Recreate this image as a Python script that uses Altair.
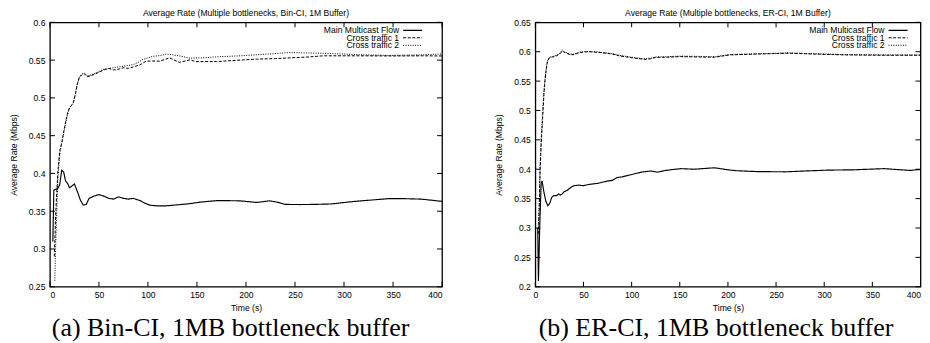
import altair as alt
import pandas as pd

# ---------------- data ----------------
series_names = ["Main Multicast Flow", "Cross traffic 1", "Cross traffic 2"]

# (a) Bin-CI
a_main_t = [3, 4, 8, 10, 12, 14, 16, 18, 20, 22, 25, 28, 31, 34, 37, 40, 45, 50, 55, 60, 65, 70, 75, 80, 85,
            92, 96, 102, 110, 118, 126, 135, 143, 153, 170, 180, 194, 211, 224, 232, 240, 255, 270, 287, 300,
            311, 330, 345, 362, 379, 395, 400]
a_main_v = [0.31, 0.378, 0.38, 0.385, 0.404, 0.402, 0.39, 0.387, 0.381, 0.383, 0.386, 0.376, 0.365, 0.358,
            0.359, 0.367, 0.37, 0.372, 0.37, 0.367, 0.366, 0.369, 0.367, 0.366, 0.367, 0.364, 0.361, 0.358,
            0.357, 0.357, 0.358, 0.359, 0.360, 0.362, 0.364, 0.364, 0.3637, 0.3616, 0.3637, 0.362, 0.359,
            0.3588, 0.359, 0.3596, 0.3615, 0.363, 0.365, 0.3666, 0.3666, 0.366, 0.3637, 0.363]

a_c1_t = [4.5, 6, 8, 10, 12, 14, 16, 18, 20, 22, 24, 26, 28, 30, 33, 35, 38, 41, 45, 50, 55, 60, 65, 70, 75,
          80, 85, 92, 98, 105, 112, 122, 132, 143, 149, 170, 194, 211, 230, 245, 262, 279, 313, 350, 380, 400]
a_c1_v = [0.29, 0.35, 0.40, 0.43, 0.44, 0.455, 0.468, 0.48, 0.487, 0.49, 0.494, 0.505, 0.518, 0.527, 0.531,
          0.532, 0.528, 0.529, 0.531, 0.534, 0.537, 0.539, 0.537, 0.538, 0.54, 0.539, 0.541, 0.5438, 0.5486,
          0.5488, 0.5486, 0.553, 0.547, 0.5504, 0.548, 0.548, 0.550, 0.5513, 0.552, 0.553, 0.554, 0.5557,
          0.5557, 0.5555, 0.5557, 0.5555]

a_c2_t = [5, 6, 8, 10, 12, 14, 16, 18, 20, 22, 24, 26, 28, 30, 33, 35, 38, 41, 45, 50, 55, 60, 65, 70, 75,
          80, 85, 90, 95, 100, 105, 112, 119, 125, 132, 143, 155, 170, 194, 210, 221, 245, 262, 279, 300,
          320, 346, 380, 397, 400]
a_c2_v = [0.258, 0.31, 0.39, 0.425, 0.44, 0.452, 0.466, 0.478, 0.486, 0.49, 0.494, 0.506, 0.519, 0.528, 0.532,
          0.533, 0.529, 0.53, 0.532, 0.535, 0.538, 0.539, 0.540, 0.541, 0.542, 0.543, 0.544, 0.547, 0.551,
          0.553, 0.555, 0.556, 0.558, 0.557, 0.5556, 0.5526, 0.553, 0.5543, 0.5557, 0.557, 0.5579, 0.560,
          0.5595, 0.559, 0.558, 0.557, 0.5562, 0.557, 0.558, 0.558]

# (b) ER-CI
b_main_t = [2.5, 3.2, 4.5, 6, 7, 9, 11, 13, 15, 17, 19, 22, 24, 26, 28, 30, 33, 36, 40, 45, 50, 55, 60, 65,
            70, 75, 80, 85, 90, 95, 100, 105, 110, 115, 120, 127, 135, 151, 165, 186, 200, 209, 230, 260, 280,
            304, 330, 362, 389, 400]
b_main_v = [0.30, 0.21, 0.30, 0.375, 0.38, 0.36, 0.345, 0.338, 0.342, 0.352, 0.355, 0.355, 0.358, 0.356, 0.358,
            0.362, 0.364, 0.368, 0.372, 0.373, 0.372, 0.374, 0.375, 0.376, 0.378, 0.38, 0.381, 0.386, 0.387,
            0.389, 0.391, 0.393, 0.395, 0.396, 0.397, 0.395, 0.398, 0.401, 0.400, 0.4025, 0.399, 0.3975,
            0.396, 0.3956, 0.397, 0.3985, 0.399, 0.401, 0.398, 0.3996]

b_c1_t = [3, 4, 5, 6, 7, 8, 9, 10, 11, 12, 13, 15, 18, 22, 26, 28, 30, 33, 36, 40, 45, 50, 55, 60, 65, 70,
          75, 80, 87, 95, 101, 108, 114, 120, 125, 135, 151, 170, 186, 202, 230, 263, 290, 321, 360, 400]
b_c1_v = [0.29, 0.33, 0.40, 0.44, 0.47, 0.50, 0.53, 0.55, 0.565, 0.578, 0.585, 0.59, 0.591, 0.593, 0.597,
          0.6015, 0.599, 0.597, 0.595, 0.595, 0.598, 0.5995, 0.6, 0.5996, 0.599, 0.598, 0.597, 0.596, 0.593,
          0.591, 0.5895, 0.588, 0.587, 0.588, 0.5905, 0.5905, 0.5917, 0.591, 0.5906, 0.5946, 0.596, 0.5975,
          0.596, 0.5946, 0.594, 0.594]

b_c2_t = [3, 4, 5, 6, 7, 8, 9, 10, 11, 12, 13, 15, 18, 22, 26, 28, 30, 33, 36, 40, 45, 50, 55, 60, 65, 70,
          75, 80, 87, 95, 101, 108, 114, 120, 125, 135, 151, 170, 186, 202, 230, 263, 290, 321, 360, 400]
b_c2_v = [0.30, 0.34, 0.41, 0.45, 0.48, 0.51, 0.535, 0.553, 0.567, 0.58, 0.587, 0.591, 0.592, 0.594, 0.598,
          0.603, 0.6, 0.598, 0.596, 0.596, 0.599, 0.6, 0.6005, 0.6, 0.5995, 0.5985, 0.598, 0.5965, 0.594,
          0.592, 0.5905, 0.589, 0.588, 0.589, 0.591, 0.5915, 0.5925, 0.592, 0.5915, 0.5952, 0.5965, 0.598,
          0.5965, 0.5952, 0.5945, 0.5945]

x_ticks = [0, 50, 100, 150, 200, 250, 300, 350, 400]
a_y_ticks = [0.25, 0.3, 0.35, 0.4, 0.45, 0.5, 0.55, 0.6]
b_y_ticks = [0.2, 0.25, 0.3, 0.35, 0.4, 0.45, 0.5, 0.55, 0.6, 0.65]

a_title = "Average Rate (Multiple bottlenecks, Bin-CI, 1M Buffer)"
b_title = "Average Rate (Multiple bottlenecks, ER-CI, 1M Buffer)"
a_caption = "(a) Bin-CI, 1MB bottleneck buffer"
b_caption = "(b) ER-CI, 1MB bottleneck buffer"

# ---------------- styling ----------------
H = 265
SANS = "Liberation Sans"
SERIF = "Liberation Serif"
FS = 8.6
TICK = 5
dashes = [[1, 0], [3, 1.6], [1, 1.4]]
widths = [1.15, 1.0, 1.0]


def panel(title, caption, ydomain, yticks, data, W, flush_last):
    frames = []
    for name, (ts, vs) in zip(series_names, data):
        frames.append(pd.DataFrame({"t": ts, "v": vs, "series": name}))
    df = pd.concat(frames, ignore_index=True)

    xscale = alt.Scale(domain=[0, 400], nice=False, zero=False)
    yscale = alt.Scale(domain=ydomain, nice=False, zero=False)
    xaxis_kw = dict(values=x_ticks, format="d", title="Time (s)", ticks=False, tickSize=0,
                    domain=False, grid=False, labelPadding=3.5, titlePadding=4.5)
    if flush_last:
        xaxis_kw["labelAlign"] = {"condition": {"test": "datum.value >= 400", "value": "right"},
                                  "value": "center"}
    xaxis = alt.Axis(**xaxis_kw)
    yaxis = alt.Axis(values=yticks, format=".2~f", title="Average Rate (Mbps)", ticks=False, tickSize=0,
                     domain=False, grid=False, labelPadding=5, titlePadding=10)

    X = alt.X("t:Q", scale=xscale, axis=xaxis)
    Y = alt.Y("v:Q", scale=yscale, axis=yaxis)

    layers = []
    for i, name in enumerate(series_names):
        layers.append(
            alt.Chart(df[df.series == name]).mark_line(
                color="black", strokeWidth=widths[i], strokeDash=dashes[i], clip=True
            ).encode(x=X, y=Y)
        )

    xt = pd.DataFrame({"t": x_ticks})
    yt = pd.DataFrame({"v": yticks})
    tick = dict(color="black", strokeWidth=1)
    layers += [
        alt.Chart(xt).mark_rule(**tick).encode(x=X, y=alt.value(H), y2=alt.value(H - TICK)),
        alt.Chart(xt).mark_rule(**tick).encode(x=X, y=alt.value(0), y2=alt.value(TICK)),
        alt.Chart(yt).mark_rule(**tick).encode(y=Y, x=alt.value(0), x2=alt.value(TICK)),
        alt.Chart(yt).mark_rule(**tick).encode(y=Y, x=alt.value(W - TICK), x2=alt.value(W)),
    ]

    # legend (gnuplot style: label on the left, sample on the right)
    for i, name in enumerate(series_names):
        ly = 8 + 7.5 * i
        ld = alt.Data(values=[{"label": name}])
        layers.append(
            alt.Chart(ld).mark_text(align="right", baseline="middle", font=SANS, fontSize=FS,
                                    color="black").encode(
                x=alt.value(350), y=alt.value(ly), text="label:N")
        )
        layers.append(
            alt.Chart(ld).mark_rule(color="black", strokeWidth=widths[i], strokeDash=dashes[i]).encode(
                x=alt.value(354), x2=alt.value(373), y=alt.value(ly))
        )

    cd = alt.Data(values=[{"cap": caption}])
    layers.append(
        alt.Chart(cd).mark_text(align="center", baseline="alphabetic", font=SERIF, fontSize=26,
                                color="black").encode(
            x=alt.value(181), y=alt.value(H + 49.5), text="cap:N")
    )

    return alt.layer(*layers).properties(
        width=W, height=H,
        title=alt.TitleParams(title, font=SANS, fontSize=FS, fontWeight="normal", color="black",
                              offset=0.5, anchor="middle", frame="group"),
    )


left = panel(a_title, a_caption, [0.25, 0.6], a_y_ticks,
             [(a_main_t, a_main_v), (a_c1_t, a_c1_v), (a_c2_t, a_c2_v)], 393, False)
right = panel(b_title, b_caption, [0.2, 0.65], b_y_ticks,
              [(b_main_t, b_main_v), (b_c1_t, b_c1_v), (b_c2_t, b_c2_v)], 386, True)

chart = alt.hconcat(left, right, spacing=49.5).properties(
    padding={"left": 0, "top": 0, "right": 0, "bottom": 0}
).configure_view(
    stroke="black", strokeWidth=1.3
).configure_axis(
    labelFont=SANS, labelFontSize=FS, labelColor="black",
    titleFont=SANS, titleFontSize=FS, titleFontWeight="normal", titleColor="black",
)

chart.save("out.html", embed_options={"renderer": "svg", "actions": False})
